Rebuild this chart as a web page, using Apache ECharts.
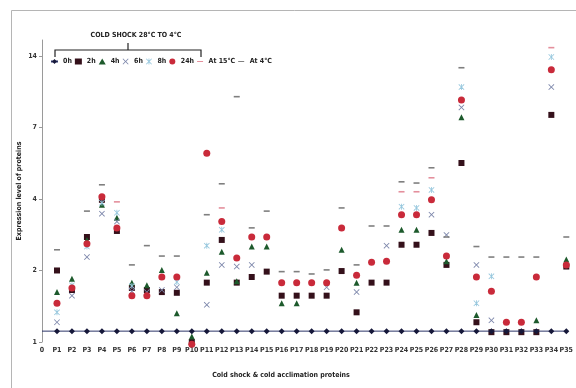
<!DOCTYPE html>
<html>
<head>
<meta charset="utf-8">
<script src="https://cdn.jsdelivr.net/npm/echarts@6/dist/echarts.min.js"></script>
<style>
  html, body { margin: 0; padding: 0; background: #fff; }
  #chart { width: 576px; height: 388px; }
</style>
</head>
<body>
<div id="chart"></div>
<script>
// Protein categories along the x axis
const categories = ['0','P1','P2','P3','P4','P5','P6','P7','P8','P9','P10','P11','P12','P13','P14','P15','P16','P17',
  'P18','P19','P20','P21','P22','P23','P24','P25','P26','P27','P28','P29','P30','P31','P32','P33','P34','P35'];

// Log2 axis ticks (labels are rounded to whole numbers)
const yTicks = [0.9, 1.8, 3.6, 7.2, 14.4];

// Expression level after cold shock, by time point
const shock0h = [1,1,1,1,1,1,1,1,1,1,1,1,1,1,1,1,1,1,1,1,1,1,1,1,1,1,1,1,1,1,1,1,1,1,1,1];
const shock2h = [null,1.8,1.49,2.49,3.57,2.64,1.52,1.49,1.46,1.45,0.9,1.6,2.42,1.6,1.69,1.78,1.41,1.41,
  1.41,1.41,1.79,1.2,1.6,1.6,2.31,2.31,2.59,1.9,5.1,1.09,0.99,0.99,0.99,0.99,8.13,1.87];
const shock4h = [null,1.46,1.66,2.42,3.4,3.0,1.6,1.56,1.81,1.19,0.95,1.76,2.16,1.62,2.27,2.27,1.31,1.31,
  null,null,2.2,1.6,null,null,2.67,2.67,null,1.97,7.94,1.17,null,null,null,1.11,null,2.0];
const shock6h = [null,1.09,1.41,2.05,3.12,2.89,1.47,1.46,1.49,1.53,null,1.29,1.9,1.87,1.9,null,null,null,
  null,1.53,null,1.46,null,2.29,null,null,3.09,2.54,8.74,1.9,1.11,null,null,null,10.65,null];
const shock8h = [null,1.2,1.56,2.27,3.47,3.15,1.55,null,null,1.61,null,2.29,2.67,null,null,null,null,null,
  null,null,null,null,null,null,3.34,3.3,3.93,null,10.65,1.31,1.7,null,null,null,14.25,null];
const shock24h = [null,1.31,1.52,2.33,3.68,2.72,1.41,1.41,1.69,1.69,0.88,5.6,2.89,2.03,2.49,2.49,1.6,1.6,
  1.6,1.6,2.72,1.72,1.95,1.97,3.09,3.09,3.57,2.07,9.4,1.69,1.47,1.09,1.09,1.69,12.6,1.9];

// Expression level under cold acclimation
const accl15 = [null,null,null,null,null,3.5,null,null,null,null,null,null,3.3,null,null,null,null,null,
  null,null,null,null,null,null,3.86,3.86,4.42,null,null,null,null,null,null,null,15.6,null];
const accl4 = [null,2.2,null,3.2,4.13,null,1.9,2.29,2.07,2.07,null,3.09,4.17,9.7,2.72,3.2,1.78,1.78,
  1.74,1.81,3.3,1.9,2.77,2.77,4.25,4.2,4.87,2.49,12.84,2.27,2.05,2.05,2.05,2.05,null,2.49];

const FONT = '"Liberation Sans Narrow","DejaVu Sans Condensed","Arial Narrow",sans-serif';

const X_MARK = 'path://M1,0L5,4L9,0L10,1L6,5L10,9L9,10L5,6L1,10L0,9L4,5L0,1Z';
const STAR_MARK = 'path://M4.3,0H5.7V10H4.3Z M1,0L5,4L9,0L10,1L6,5L10,9L9,10L5,6L1,10L0,9L4,5L0,1Z';
// thin bar inside a 10x10 box (tiny corner specks keep the box size in the legend)
const DASH_ICON = 'path://M0,0H0.01V0.01H0Z M0,4.2H10V5.8H0Z M9.99,9.99H10V10H9.99Z';

function scatter(name, data, symbol, size, color) {
  return {
    name, type: 'scatter', data, symbol, symbolSize: size, clip: false,
    itemStyle: { color, opacity: 1 }
  };
}

const chart = echarts.init(document.getElementById('chart'), null, { renderer: 'canvas' });

chart.setOption({
  animation: false,
  backgroundColor: '#ffffff',
  textStyle: { fontFamily: FONT },
  grid: { left: 42, right: 3, top: 40, bottom: 46 },
  legend: {
    left: 50, top: 58, padding: 0,
    itemGap: 3, itemWidth: 7, itemHeight: 6,
    textStyle: { fontSize: 7, fontWeight: 'bold', color: '#222', fontFamily: FONT },
    data: ['0h','2h','4h','6h','8h','24h',
      { name: 'At 15°C', icon: DASH_ICON },
      { name: 'At 4°C', icon: DASH_ICON }]
  },
  xAxis: {
    type: 'category',
    data: categories,
    boundaryGap: false,
    axisLine: { show: false },
    axisTick: { show: false },
    axisLabel: { interval: 0, fontSize: 7, fontWeight: 'bold', color: '#333', margin: 5, fontFamily: FONT },
    splitLine: { show: false }
  },
  yAxis: {
    type: 'log',
    logBase: 2,
    min: 0.9,
    max: 16.8,
    axisLine: { show: true, lineStyle: { color: '#9a9a9a', width: 1 } },
    axisTick: { show: true, customValues: yTicks, length: 3, lineStyle: { color: '#9a9a9a' } },
    axisLabel: {
      customValues: yTicks,
      formatter: v => String(Math.round(v)),
      fontSize: 7, fontWeight: 'bold', color: '#333', margin: 5, fontFamily: FONT
    },
    splitLine: { show: false },
    name: 'Expression level of proteins',
    nameLocation: 'middle',
    nameGap: 19,
    nameMoveOverlap: false,
    nameTextStyle: { fontSize: 7, fontWeight: 'bold', color: '#222', fontFamily: FONT }
  },
  series: [
    {
      name: '0h', type: 'line',
      data: shock0h.map((v, i) => (i === 0 ? { value: v, symbol: 'none' } : v)),
      symbol: 'diamond', symbolSize: 6,
      lineStyle: { color: '#2c3568', width: 1 },
      itemStyle: { color: '#16183a' }
    },
    scatter('2h', shock2h, 'rect', 6, '#34101a'),
    scatter('4h', shock4h, 'triangle', 6, '#1d5a2c'),
    scatter('6h', shock6h, X_MARK, 6, '#7d87ab'),
    scatter('8h', shock8h, STAR_MARK, 6, '#98c8de'),
    scatter('24h', shock24h, 'circle', 7, '#c92a3a'),
    scatter('At 15°C', accl15, 'rect', [6, 1.6], '#e48f9c'),
    scatter('At 4°C', accl4, 'rect', [6, 1.6], '#7f7f7f')
  ],
  graphic: [
    {
      type: 'rect', silent: true, z: -10,
      shape: { x: 11.5, y: 10.5, width: 620, height: 420 },
      style: { fill: 'none', stroke: '#b5b5b5', lineWidth: 1 }
    },
    {
      type: 'polyline', silent: true,
      shape: { points: [[55, 57], [55, 50], [201, 50], [201, 57]] },
      style: { stroke: '#222', lineWidth: 1.2, fill: 'none' }
    },
    {
      type: 'line', silent: true,
      shape: { x1: 128, y1: 43, x2: 128, y2: 50 },
      style: { stroke: '#222', lineWidth: 1.2 }
    },
    {
      type: 'text', silent: true, x: 136, y: 35,
      style: {
        text: 'COLD SHOCK 28°C TO 4°C', fill: '#222',
        font: 'bold 7px ' + FONT, align: 'center', verticalAlign: 'middle'
      }
    },
    {
      type: 'text', silent: true, x: 281, y: 375,
      style: {
        text: 'Cold shock & cold acclimation proteins', fill: '#222',
        font: 'bold 7px ' + FONT, align: 'center', verticalAlign: 'middle'
      }
    }
  ]
});
</script>
</body>
</html>
